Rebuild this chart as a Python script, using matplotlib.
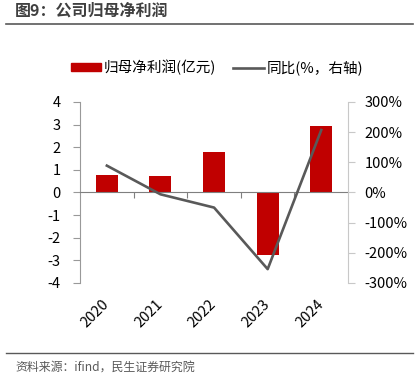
import numpy as np
import matplotlib
matplotlib.use('Agg')
import matplotlib.pyplot as plt
from matplotlib.lines import Line2D
from matplotlib.patches import Patch

plt.rcParams['font.family'] = ['Noto Sans CJK SC', 'DejaVu Sans']
plt.rcParams['axes.unicode_minus'] = False

years = ['2020', '2021', '2022', '2023', '2024']
profit = [0.79, 0.74, 1.79, -2.75, 2.94]      # 亿元
yoy = [89, -6, -50, -254, 207]                # %

fig = plt.figure(figsize=(4.17, 3.89), dpi=100)
ax = fig.add_axes([0.192, 0.2725, 0.6427, 0.4653])
ax2 = ax.twinx()

x = np.arange(len(years))
ax.bar(x, profit, width=0.41, color='#c00000', zorder=2)
ax2.plot(x, yoy, color='#595959', lw=1.9, zorder=3)

ax.set_xlim(-0.5, len(years) - 0.5)
ax.set_ylim(-4, 4)
ax.set_yticks(range(-4, 5))
ax2.set_ylim(-300, 300)
ax2.set_yticks(range(-300, 301, 100))
ax2.set_yticklabels(['{}%'.format(v) for v in range(-300, 301, 100)])

# zero line with boundary ticks
ax.spines['bottom'].set_position(('data', 0))
ax.spines['bottom'].set_color('#7f7f7f')
ax.set_xticks(x)
ax.set_xticklabels([])
ax.tick_params(axis='x', which='major', length=0)
ax.set_xticks(np.arange(0.5, len(years) - 1, 1), minor=True)
ax.tick_params(axis='x', which='minor', length=4, color='#7f7f7f', width=0.8)

for s in ['top', 'right']:
    ax.spines[s].set_visible(False)
ax.spines['left'].set_color('#999999')
ax.tick_params(axis='y', length=5, color='#999999', labelsize=10.5, pad=9)

for s in ['top', 'left', 'bottom']:
    ax2.spines[s].set_visible(False)
ax2.spines['right'].set_color('#c8c8c8')
ax2.tick_params(axis='y', length=5, color='#c8c8c8', labelsize=10.5, pad=7)

sec = ax.secondary_xaxis(0)
sec.set_xticks(x)
sec.set_xticklabels(years, rotation=45, ha='right', va='center',
                    rotation_mode='anchor')
sec.tick_params(length=0, labelsize=10.5, pad=14)
sec.spines['bottom'].set_visible(False)

handles = [Patch(color='#c00000'), Line2D([0], [0], color='#595959', lw=1.9)]
fig.legend(handles, ['归母净利润(亿元)', '同比(%，右轴)'], loc='center',
           bbox_to_anchor=(0.52, 1 - 67.7 / 389), ncol=2, frameon=False,
           fontsize=10.5, handlelength=2.1, handleheight=0.5,
           handletextpad=0.15, columnspacing=1.2)

fig.text(15 / 417, 1 - 11 / 389, '图9：公司归母净利润', fontsize=11.5,
         fontweight='bold', color='#404040', va='center', ha='left')
fig.add_artist(Line2D([6 / 417, 413 / 417], [1 - 24.3 / 389] * 2,
                      color='#595959', lw=1.2))
fig.add_artist(Line2D([6 / 417, 413 / 417], [1 - 353 / 389] * 2,
                      color='#595959', lw=1.0))
fig.text(15 / 417, 1 - 367 / 389, '资料来源：ifind，民生证券研究院', fontsize=8.6,
         color='#595959', va='center', ha='left')

fig.savefig('out.png', dpi=100)
